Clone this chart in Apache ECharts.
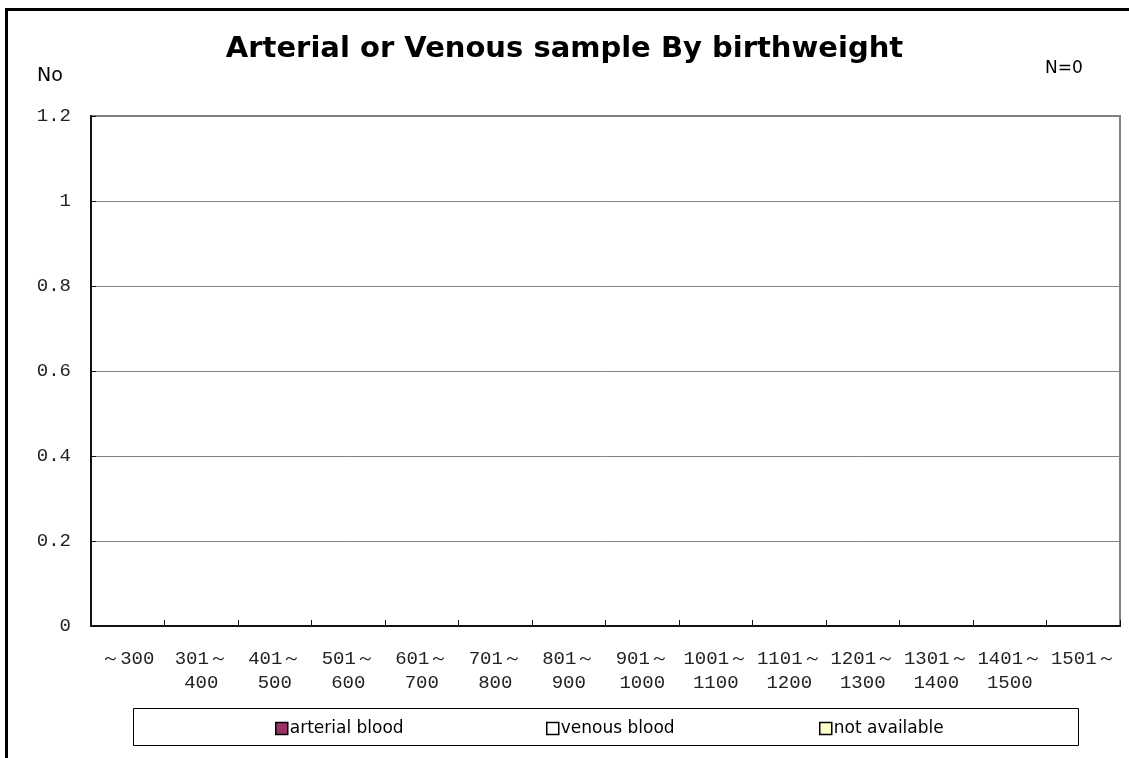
<!DOCTYPE html>
<html>
<head>
<meta charset="utf-8">
<script src="https://cdn.jsdelivr.net/npm/echarts@6/dist/echarts.min.js"></script>
<style>
  html, body { margin: 0; padding: 0; background: #fff; }
  #chart { width: 1129px; height: 758px; }
</style>
</head>
<body>
<div id="chart"></div>
<script>
// 出生体重別 動脈血/静脈血
const categories = ['～300', '301～\n400', '401～\n500', '501～\n600', '601～\n700', '701～\n800',
  '801～\n900', '901～\n1000', '1001～\n1100', '1101～\n1200', '1201～\n1300', '1301～\n1400',
  '1401～\n1500', '1501～'];
const arterial = [0, 0, 0, 0, 0, 0, 0, 0, 0, 0, 0, 0, 0, 0];
const venous = [0, 0, 0, 0, 0, 0, 0, 0, 0, 0, 0, 0, 0, 0];
const notAvailable = [0, 0, 0, 0, 0, 0, 0, 0, 0, 0, 0, 0, 0, 0];
const seriesNames = ['arterial blood', 'venous blood', 'not available'];

const chart = echarts.init(document.getElementById('chart'));

const legendBase = {
  top: 715,
  itemWidth: 12,
  itemHeight: 12,
  itemGap: 4,
  icon: 'rect',
  itemStyle: { borderColor: '#000', borderWidth: 1.5 },
  textStyle: { fontFamily: 'DejaVu Sans', fontSize: 17, color: '#000', padding: [0, 0, 0, -3] },
  selectedMode: false
};

const option = {
  animation: false,
  title: {
    text: 'Arterial or Venous sample By birthweight',
    left: 'center',
    top: 30,
    textStyle: { fontFamily: 'DejaVu Sans', fontWeight: 'bold', fontSize: 29, color: '#000' }
  },
  legend: [
    Object.assign({}, legendBase, { left: 270, data: [seriesNames[0]] }),
    Object.assign({}, legendBase, { left: 541, data: [seriesNames[1]] }),
    Object.assign({}, legendBase, { left: 814, data: [seriesNames[2]] })
  ],
  grid: {
    left: 91, right: 9, top: 116, bottom: 132,
    show: true, borderColor: '#808080', borderWidth: 2
  },
  xAxis: {
    type: 'category',
    data: categories,
    axisLine: { show: true, lineStyle: { color: '#111', width: 2 } },
    axisTick: { show: true, inside: true, length: 6, lineStyle: { color: '#111', width: 1 } },
    axisLabel: {
      interval: 0, margin: 21, lineHeight: 24,
      fontFamily: 'Liberation Mono', fontSize: 19, color: '#222'
    }
  },
  yAxis: {
    type: 'value',
    min: 0, max: 1.2, interval: 0.2,
    axisLine: { show: true, lineStyle: { color: '#111', width: 2 } },
    axisTick: { show: true, inside: true, length: 5, lineStyle: { color: '#111' } },
    axisLabel: { margin: 20, fontFamily: 'Liberation Mono', fontSize: 19, color: '#222' },
    splitLine: { lineStyle: { color: '#808080', width: 1 } }
  },
  series: [
    { name: seriesNames[0], type: 'bar', data: arterial, itemStyle: { color: '#993366' } },
    { name: seriesNames[1], type: 'bar', data: venous, itemStyle: { color: '#ffffff' } },
    { name: seriesNames[2], type: 'bar', data: notAvailable, itemStyle: { color: '#ffffcc' } }
  ],
  graphic: [
    { type: 'line', shape: { x1: 6.5, y1: 9.5, x2: 6.5, y2: 758 }, style: { stroke: '#000', lineWidth: 3 } },
    { type: 'line', shape: { x1: 5, y1: 9.5, x2: 1129, y2: 9.5 }, style: { stroke: '#000', lineWidth: 3 } },
    { type: 'rect', shape: { x: 133.5, y: 708.5, width: 945, height: 37 },
      style: { fill: 'none', stroke: '#000', lineWidth: 1 } },
    { type: 'text', left: 37, top: 67,
      style: { text: 'No', fontFamily: 'DejaVu Sans', fontSize: 19, fill: '#000' } },
    { type: 'text', left: 1045, top: 60,
      style: { text: 'N=0', fontFamily: 'DejaVu Sans', fontSize: 17, fill: '#000' } }
  ]
};

chart.setOption(option);
</script>
</body>
</html>
